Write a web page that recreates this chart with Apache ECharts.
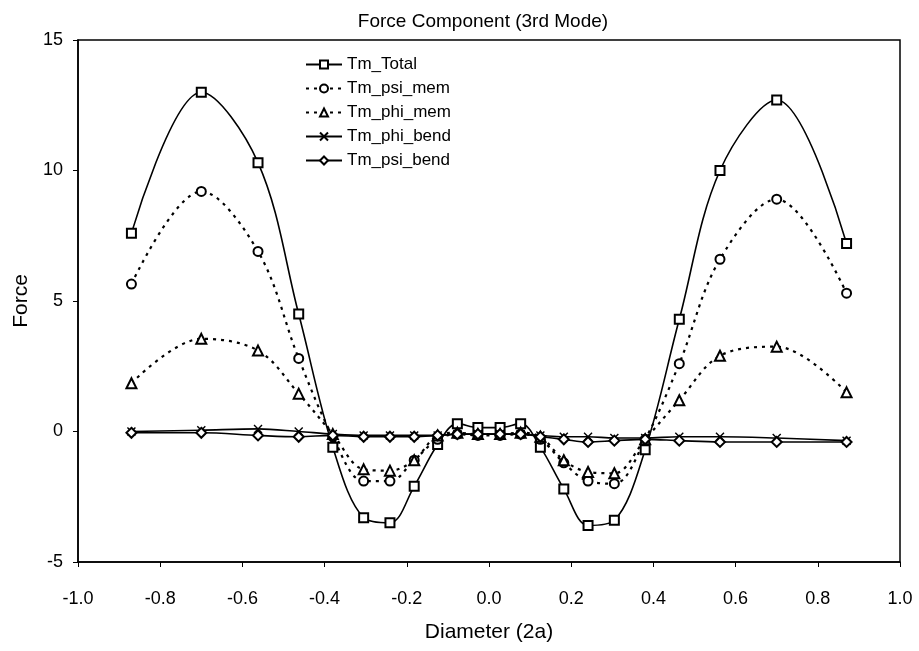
<!DOCTYPE html>
<html>
<head>
<meta charset="utf-8">
<script src="https://cdn.jsdelivr.net/npm/echarts@6/dist/echarts.min.js"></script>
<style>html,body{margin:0;padding:0;background:#fff}#c{width:919px;height:651px}</style>
</head>
<body>
<div id="c"></div>
<script>
const xPositions = [-0.87, -0.70, -0.562, -0.463, -0.38, -0.305, -0.241, -0.182, -0.125, -0.077, -0.027,
                    0.027, 0.077, 0.125, 0.182, 0.241, 0.305, 0.38, 0.463, 0.562, 0.70, 0.87];
const tmTotal   = [7.6, 13.0, 10.3, 4.5, -0.6, -3.3, -3.5, -2.1, -0.5, 0.3, 0.15,
                   0.15, 0.3, -0.6, -2.2, -3.6, -3.4, -0.7, 4.3, 10.0, 12.7, 7.2];
const tmPsiMem  = [5.65, 9.2, 6.9, 2.8, -0.2, -1.9, -1.9, -1.1, -0.3, -0.1, -0.15,
                   -0.15, -0.1, -0.3, -1.2, -1.9, -2.0, -0.3, 2.6, 6.6, 8.9, 5.3];
const tmPhiMem  = [1.85, 3.55, 3.1, 1.45, -0.1, -1.45, -1.5, -1.1, -0.15, -0.05, -0.1,
                   -0.1, -0.05, -0.2, -1.1, -1.55, -1.6, -0.3, 1.2, 2.9, 3.25, 1.5];
const tmPhiBend = [0.0, 0.05, 0.1, 0.0, -0.1, -0.15, -0.15, -0.15, -0.15, -0.1, -0.1,
                   -0.1, -0.1, -0.15, -0.2, -0.2, -0.25, -0.25, -0.2, -0.2, -0.25, -0.35];
const tmPsiBend = [-0.05, -0.05, -0.15, -0.2, -0.15, -0.2, -0.2, -0.2, -0.15, -0.1, -0.1,
                   -0.1, -0.1, -0.2, -0.3, -0.4, -0.35, -0.3, -0.35, -0.4, -0.4, -0.4];
const seriesNames = ['Tm_Total', 'Tm_psi_mem', 'Tm_phi_mem', 'Tm_phi_bend', 'Tm_psi_bend'];
const xTicks = { min: -1.0, max: 1.0, interval: 0.2 };
const yTicks = { min: -5, max: 15, interval: 5 };

const FONT = 'Liberation Sans, Arial, sans-serif';
const crossPath = 'path://M0,0L10,10M10,0L0,10';
function pair(ys) { return xPositions.map((x, i) => [x, ys[i]]); }
function mk(name, ys, symbol, dashed, size) {
  return {
    name, type: 'line', data: pair(ys), smooth: 0.35,
    symbol, symbolSize: size, showSymbol: true, symbolKeepAspect: true,
    lineStyle: { color: '#000', width: dashed ? 2.2 : 1.6, type: dashed ? [3, 5] : 'solid' },
    itemStyle: { color: '#000', borderColor: '#000', borderWidth: 1.4 },
    emphasis: { disabled: true }, animation: false
  };
}
const chart = echarts.init(document.getElementById('c'), null, { renderer: 'canvas' });
chart.setOption({
  backgroundColor: '#fff',
  animation: false,
  title: { text: 'Force Component (3rd Mode)', left: 478, textAlign: 'center', top: 7,
    textStyle: { fontFamily: FONT, fontSize: 19, fontWeight: 'normal', color: '#000' } },
  legend: {
    orient: 'vertical', left: 300, top: 51, itemWidth: 36, itemHeight: 10, itemGap: 7,
    textStyle: { fontFamily: FONT, fontSize: 17, color: '#000' },
    data: seriesNames
  },
  grid: { left: 78, right: 19, top: 40, bottom: 89, show: true, borderColor: '#000', borderWidth: 1.5, containLabel: false },
  xAxis: {
    type: 'value', min: xTicks.min, max: xTicks.max, interval: xTicks.interval,
    name: 'Diameter (2a)', nameLocation: 'middle', nameGap: 60,
    nameTextStyle: { fontFamily: FONT, fontSize: 21, color: '#000' },
    axisLine: { show: true, onZero: false, lineStyle: { color: '#000', width: 1.5 } },
    axisTick: { show: true, inside: false, length: 5, lineStyle: { color: '#000' } },
    axisLabel: { fontFamily: FONT, fontSize: 18, color: '#000', margin: 28, formatter: v => v.toFixed(1) },
    splitLine: { show: false }
  },
  yAxis: {
    type: 'value', min: yTicks.min, max: yTicks.max, interval: yTicks.interval,
    name: 'Force', nameLocation: 'middle', nameGap: 46,
    nameTextStyle: { fontFamily: FONT, fontSize: 21, color: '#000' },
    axisLine: { show: true, onZero: false, lineStyle: { color: '#000', width: 1.5 } },
    axisTick: { show: true, inside: false, length: 5, lineStyle: { color: '#000' } },
    axisLabel: { fontFamily: FONT, fontSize: 18, color: '#000', margin: 15 },
    splitLine: { show: false }
  },
  series: [
    mk('Tm_Total', tmTotal, 'emptyRect', false, 9),
    mk('Tm_psi_mem', tmPsiMem, 'emptyCircle', true, 9),
    mk('Tm_phi_mem', tmPhiMem, 'emptyTriangle', true, 10),
    mk('Tm_phi_bend', tmPhiBend, crossPath, false, 8),
    mk('Tm_psi_bend', tmPsiBend, 'emptyDiamond', false, 10)
  ]
});
</script>
</body>
</html>
